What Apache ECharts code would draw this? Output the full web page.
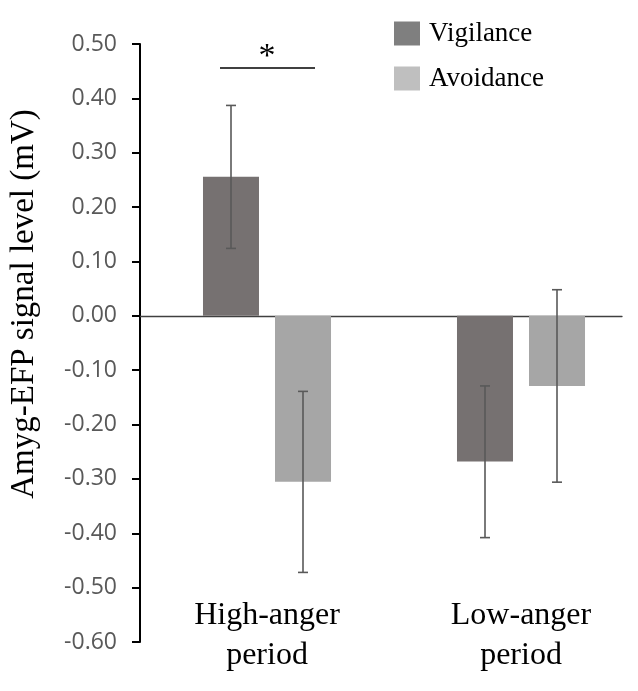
<!DOCTYPE html>
<html>
<head>
<meta charset="utf-8">
<script src="https://cdn.jsdelivr.net/npm/echarts@6/dist/echarts.min.js"></script>
<style>html,body{margin:0;padding:0;background:#fff;}#c{width:638px;height:691px;}</style>
</head>
<body>
<div id="c"></div>
<script>
const categories = ['High-anger\nperiod', 'Low-anger\nperiod'];
const seriesNames = ['Vigilance', 'Avoidance'];
const vigilance = [0.256, -0.268];
const avoidance = [-0.305, -0.129];
const vigilanceErr = [[0.124, 0.387], [-0.408, -0.129]];
const avoidanceErr = [[-0.472, -0.139], [-0.306, 0.048]];
const yTicks = {min: -0.6, max: 0.5, interval: 0.1};

const chart = echarts.init(document.getElementById('c'));
const BAR_W = 56, GAP = 16;
function errSeries(name, errs, side) {
  return {
    type: 'custom', name: name + ' err', xAxisIndex: 1, yAxisIndex: 1, silent: true, z: 5,
    data: errs.map((e, i) => [i, e[0], e[1]]),
    encode: {x: 0, y: [1, 2]},
    renderItem: function (params, api) {
      const off = side * (BAR_W + GAP) / 2;
      const lo = api.coord([api.value(0), api.value(1)]);
      const hi = api.coord([api.value(0), api.value(2)]);
      const x = lo[0] + off, cap = 5;
      const st = {stroke: '#595959', lineWidth: 1.6};
      return {type: 'group', children: [
        {type: 'line', shape: {x1: x, y1: lo[1], x2: x, y2: hi[1]}, style: st},
        {type: 'line', shape: {x1: x - cap, y1: lo[1], x2: x + cap, y2: lo[1]}, style: st},
        {type: 'line', shape: {x1: x - cap, y1: hi[1], x2: x + cap, y2: hi[1]}, style: st}
      ]};
    }
  };
}
const serif = 'Liberation Serif, Times New Roman, serif';
chart.setOption({
  animation: false,
  backgroundColor: '#fff',
  grid: [
    {left: 140, right: 16, top: 44, bottom: 49, outerBoundsMode: 'none'},
    {left: 140, right: -10, top: 44, bottom: 49, outerBoundsMode: 'none'}
  ],
  legend: {
    orient: 'vertical', left: 389, top: 15, itemWidth: 26, itemHeight: 24, itemGap: 18,
    icon: 'rect',
    textStyle: {fontFamily: serif, fontSize: 27, color: '#000', padding: [0, 0, 0, 4]},
    data: [
      {name: 'Vigilance', itemStyle: {color: '#7f7f7f'}},
      {name: 'Avoidance', itemStyle: {color: '#bfbfbf'}}
    ]
  },
  xAxis: [
    {type: 'category', gridIndex: 0, data: categories,
     axisLine: {onZero: true, lineStyle: {color: '#404040', width: 1.3}},
     axisTick: {show: false}, axisLabel: {show: false}, splitLine: {show: false}},
    {type: 'category', gridIndex: 1, data: categories, position: 'bottom',
     axisLine: {show: false, onZero: false}, axisTick: {show: false}, splitLine: {show: false},
     axisLabel: {margin: -46, fontFamily: serif, fontSize: 32, lineHeight: 40, color: '#000', interval: 0}}
  ],
  yAxis: [
    {type: 'value', gridIndex: 0, min: yTicks.min, max: yTicks.max, interval: yTicks.interval,
     axisLine: {show: true, lineStyle: {color: '#000', width: 2}},
     axisTick: {show: true, inside: false, length: 8, lineStyle: {color: '#000', width: 2}},
     splitLine: {show: false},
     axisLabel: {margin: 23, formatter: v => v.toFixed(2), fontFamily: 'Open Sans, sans-serif', fontSize: 23, color: '#595959'}},
    {type: 'value', gridIndex: 1, min: yTicks.min, max: yTicks.max, interval: yTicks.interval, show: false}
  ],
  series: [
    {name: 'Vigilance', type: 'bar', xAxisIndex: 1, yAxisIndex: 1, data: vigilance,
     barWidth: BAR_W, barGap: (GAP / BAR_W * 100).toFixed(1) + '%', itemStyle: {color: '#767171'}},
    {name: 'Avoidance', type: 'bar', xAxisIndex: 1, yAxisIndex: 1, data: avoidance,
     barWidth: BAR_W, itemStyle: {color: '#a6a6a6'}},
    errSeries('Vigilance', vigilanceErr, -1),
    errSeries('Avoidance', avoidanceErr, 1)
  ],
  graphic: [
    {type: 'text', x: 24, y: 304, rotation: Math.PI / 2,
     style: {text: 'Amyg-EFP signal level (mV)', font: '33px ' + serif, fill: '#000', align: 'center', verticalAlign: 'middle'}},
    {type: 'line', shape: {x1: 220, y1: 68, x2: 315, y2: 68}, style: {stroke: '#000', lineWidth: 1.3}},
    {type: 'text', x: 267, y: 57, style: {text: '*', font: '34px ' + serif, fill: '#000', align: 'center', verticalAlign: 'middle'}}
  ]
});
</script>
</body>
</html>
